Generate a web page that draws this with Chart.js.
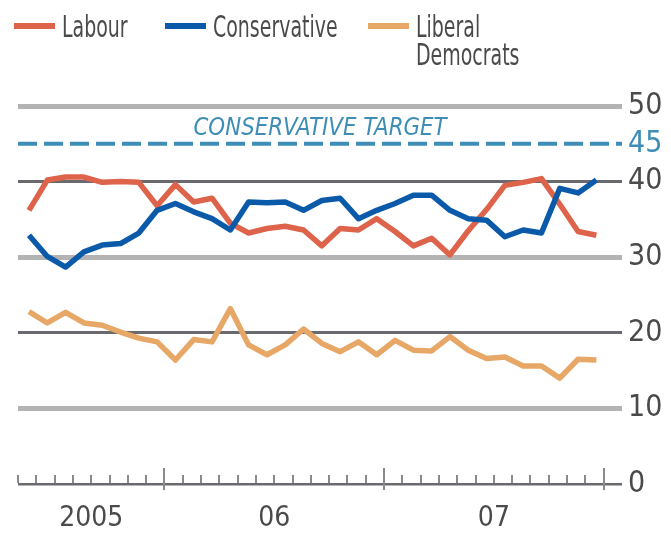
<!DOCTYPE html>
<html><head><meta charset="utf-8">
<script src="https://cdn.jsdelivr.net/npm/chart.js@4/dist/chart.umd.min.js"></script>
<style>html,body{margin:0;padding:0;background:#fff;}#wrap{position:relative;width:671px;height:534px;}</style>
</head><body><div id="wrap"><canvas id="c" width="671" height="534"></canvas></div>
<script>
// ---- data ----
const months = ['2005-05','2005-06','2005-07','2005-08','2005-09','2005-10','2005-11','2005-12',
  '2006-01','2006-02','2006-03','2006-04','2006-05','2006-06','2006-07','2006-08','2006-09','2006-10','2006-11','2006-12',
  '2007-01','2007-02','2007-03','2007-04','2007-05','2007-06','2007-07','2007-08','2007-09','2007-10','2007-11','2007-12'];
const labour = [36.2,40.2,40.6,40.6,39.9,40.0,39.9,36.8,39.6,37.3,37.8,34.5,33.2,33.8,34.1,33.6,31.5,33.8,33.6,35.1,33.4,31.5,32.5,30.3,33.5,36.3,39.5,39.9,40.4,37.0,33.4,32.9];
const conservative = [32.9,30.1,28.7,30.7,31.6,31.8,33.2,36.2,37.1,36.0,35.1,33.6,37.3,37.2,37.3,36.2,37.5,37.8,35.1,36.2,37.1,38.2,38.2,36.2,35.1,34.9,32.7,33.6,33.2,39.1,38.5,40.2];
const libdem = [22.8,21.3,22.7,21.3,21.0,20.1,19.3,18.8,16.4,19.1,18.8,23.2,18.4,17.1,18.4,20.5,18.6,17.5,18.8,17.1,19.0,17.7,17.6,19.5,17.7,16.6,16.8,15.6,15.6,14.0,16.5,16.4];
const seriesNames = ['Labour','Conservative','Liberal Democrats'];
const yTickValues = [0,10,20,30,40,45,50];
const yearLabels = ['2005','06','07'];
const targetValue = 45;
const targetLabel = 'CONSERVATIVE TARGET';
const axisStart = '2005-05', axisEnd = '2008-01';

// ---- helpers ----
const FONT = '"DejaVu Sans Condensed","DejaVu Sans",sans-serif';
const COLORS = ['#de634b','#0b5aa9','#e6a767'];
const TEXT = '#4a4a4a', BLUE = '#3e8db6', LIGHT = '#b3b3b3', DARK = '#6a6a6e';
function mIdx(s){const [y,m]=s.split('-').map(Number);return (y-2005)*12+(m-5);}
const POINT_OFFSET = 0.6;
const pts = arr => arr.map((v,i)=>({x:mIdx(months[i])+POINT_OFFSET,y:v}));
const startIdx = mIdx(axisStart), endIdx = mIdx(axisEnd);
const yearBounds = [startIdx, mIdx('2006-01'), mIdx('2007-01'), endIdx];
const yearLabelPos = yearLabels.map((_,i)=>(yearBounds[i]+yearBounds[i+1])/2);

function squeezeText(ctx, t, x, y, sx){
  ctx.save(); ctx.translate(x, y); ctx.scale(sx, 1); ctx.fillText(t, 0, 0); ctx.restore();
}

const decor = {
  id:'decor',
  beforeDatasetsDraw(chart){
    const {ctx, chartArea:a, scales:{x,y}} = chart;
    ctx.save();
    const yt = y.getPixelForValue(targetValue);
    ctx.strokeStyle = BLUE; ctx.lineWidth = 4; ctx.setLineDash([19,7]);
    ctx.beginPath(); ctx.moveTo(a.left, yt); ctx.lineTo(a.right, yt); ctx.stroke();
    ctx.setLineDash([]);
    ctx.font = 'italic 25px ' + FONT; ctx.fillStyle = BLUE;
    ctx.textAlign = 'center'; ctx.textBaseline = 'alphabetic';
    squeezeText(ctx, targetLabel, (a.left+a.right)/2, yt - 9, 0.95);
    const y0 = y.getPixelForValue(0);
    ctx.strokeStyle = '#8a8a8a'; ctx.lineWidth = 2;
    for (let m = startIdx; m <= endIdx; m++){
      const px = Math.round(x.getPixelForValue(m));
      const major = ((m + 4) % 12) === 0;
      ctx.beginPath();
      if (major){ ctx.moveTo(px, y0-16); ctx.lineTo(px, y0+6); }
      else { ctx.moveTo(px, y0-9); ctx.lineTo(px, y0-1); }
      ctx.stroke();
    }
    ctx.restore();
  },
  afterDraw(chart){
    const {ctx} = chart;
    ctx.save();
    const lx = [14,165,368];
    ctx.font = '31px ' + FONT; ctx.textAlign='left'; ctx.textBaseline='alphabetic';
    seriesNames.forEach((name,i)=>{
      ctx.strokeStyle = COLORS[i]; ctx.lineWidth = 6;
      ctx.beginPath(); ctx.moveTo(lx[i],26); ctx.lineTo(lx[i]+41,26); ctx.stroke();
      ctx.fillStyle = TEXT;
      const lines = name === 'Liberal Democrats' ? ['Liberal','Democrats'] : [name];
      lines.forEach((t,j)=> squeezeText(ctx, t, lx[i]+48, 37 + j*28, 0.68));
    });
    ctx.restore();
  }
};

const ds = (label, arr, color) => ({label, data: pts(arr), borderColor: color, backgroundColor: color,
  borderWidth: 5.5, pointRadius: 0, tension: 0, fill: false, borderJoinStyle:'round', borderCapStyle:'butt'});

new Chart(document.getElementById('c'), {
  type:'line',
  data:{datasets:[
    ds(seriesNames[2], libdem, COLORS[2]),
    ds(seriesNames[1], conservative, COLORS[1]),
    ds(seriesNames[0], labour, COLORS[0])
  ]},
  options:{
    responsive:false, animation:false, devicePixelRatio:1,
    layout:{padding:{left:18, top:106, right:0, bottom:0}},
    plugins:{legend:{display:false}, tooltip:{enabled:false}},
    scales:{
      x:{type:'linear', min:startIdx, max:endIdx+1,
        grid:{display:false}, border:{display:false},
        afterBuildTicks: s => { s.ticks = yearLabelPos.map(v=>({value:v})); },
        afterFit: s => { s.height = 50; },
        ticks:{autoSkip:false, maxRotation:0, padding:10, color:TEXT, font:{family:FONT, size:28},
          callback:(v,i)=>yearLabels[i]}
      },
      y:{position:'right', min:0, max:50,
        afterBuildTicks: s => { s.ticks = yTickValues.map(v=>({value:v})); },
        afterFit: s => { s.width = 49; },
        border:{display:false},
        grid:{drawTicks:false,
          color: c => { const v=c.tick.value; if(v===targetValue) return 'rgba(0,0,0,0)'; return (v===0||v===20||v===40)?DARK:LIGHT; },
          lineWidth: c => { const v=c.tick.value; if(v===0) return 2.5; return (v===20||v===40)?3:5; }
        },
        ticks:{padding:6, font:{family:FONT, size:30},
          color: c => c.tick.value===targetValue ? BLUE : TEXT,
          callback: v => String(v)}
      }
    }
  },
  plugins:[decor]
});
</script>
</body></html>
